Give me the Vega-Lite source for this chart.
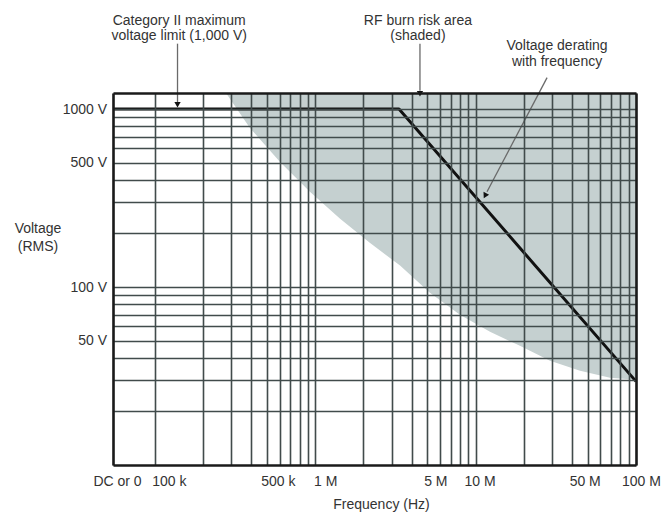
{
  "$schema": "https://vega.github.io/schema/vega-lite/v6.json",
  "width": 523,
  "height": 372,
  "autosize": {"type": "none"},
  "padding": {"left": 113, "top": 93, "right": 28, "bottom": 53},
  "background": "white",
  "config": {"view": {"stroke": null}, "font": "Liberation Sans"},
  "resolve": {"axis": {"x": "independent", "y": "independent"}},
  "layer": [
    {
      "data": {"values": [
        {"f": 278000, "v": 1230},
        {"f": 391000, "v": 785},
        {"f": 602000, "v": 505},
        {"f": 927000, "v": 343},
        {"f": 1430000, "v": 242},
        {"f": 2190000, "v": 177},
        {"f": 3380000, "v": 132},
        {"f": 5190000, "v": 92.8},
        {"f": 7990000, "v": 69.8},
        {"f": 12300000, "v": 56},
        {"f": 18900000, "v": 46.7},
        {"f": 29100000, "v": 38.5},
        {"f": 44800000, "v": 33.8},
        {"f": 68900000, "v": 30.9},
        {"f": 100000000, "v": 30.1}
      ]},
      "mark": {"type": "area", "color": "#c5d0d0", "opacity": 1, "clip": true},
      "encoding": {
        "x": {
          "field": "f", "type": "quantitative",
          "scale": {"type": "log", "domain": [54900, 100000000], "nice": false},
          "axis": {
            "orient": "bottom",
            "values": [54900, 100000, 200000, 300000, 400000, 500000, 600000, 700000, 800000, 900000, 1000000, 2000000, 3000000, 4000000, 5000000, 6000000, 7000000, 8000000, 9000000, 10000000, 20000000, 30000000, 40000000, 50000000, 60000000, 70000000, 80000000, 90000000, 100000000],
            "labelExpr": "datum.value < 60000 ? 'DC or 0' : datum.value == 100000 ? '100 k' : datum.value == 500000 ? '500 k' : datum.value == 1000000 ? '1 M' : datum.value == 5000000 ? '5 M' : datum.value == 10000000 ? '10 M' : datum.value == 50000000 ? '50 M' : datum.value == 100000000 ? '100 M' : ''",
            "ticks": false, "tickSize": 0,
            "domain": true, "domainColor": "#1a1a1a", "domainWidth": 2.5,
            "grid": true, "gridColor": "#414b4b", "gridWidth": 1.6, "gridOpacity": 1,
            "labelFont": "Liberation Sans", "labelFontSize": 14, "labelColor": "#333333",
            "labelPadding": 16, "labelBaseline": "middle", "labelOverlap": false, "labelFlush": false, "labelBound": false,
            "labelOffset": {"expr": "datum.value < 60000 ? 4 : datum.value == 100000 ? 14 : datum.value == 500000 ? 11 : datum.value == 1000000 ? 10 : datum.value == 5000000 ? 8 : datum.value == 10000000 ? 4 : datum.value == 50000000 ? -3 : 5"},
            "title": "Frequency (Hz)", "titleFont": "Liberation Sans", "titleFontSize": 14, "titleFontWeight": "normal", "titleColor": "#333333",
            "titleX": 268, "titleY": 39, "titleBaseline": "middle", "titleAlign": "center", "titleAnchor": null,
            "zindex": 1
          }
        },
        "y": {
          "field": "v", "type": "quantitative",
          "scale": {"type": "log", "domain": [10, 1230], "nice": false},
          "axis": {
            "orient": "left",
            "values": [20, 30, 40, 50, 60, 70, 80, 90, 100, 200, 300, 400, 500, 600, 700, 800, 900, 1000],
            "labelExpr": "datum.value == 1000 ? '1000 V' : datum.value == 500 ? '500 V' : datum.value == 100 ? '100 V' : datum.value == 50 ? '50 V' : ''",
            "ticks": false, "tickSize": 0,
            "domain": true, "domainColor": "#1a1a1a", "domainWidth": 2.5,
            "grid": true, "gridColor": "#414b4b", "gridWidth": 1.6, "gridOpacity": 1,
            "labelFont": "Liberation Sans", "labelFontSize": 14, "labelColor": "#333333",
            "labelPadding": 6.5, "labelBaseline": "middle", "labelOverlap": false, "labelFlush": false, "labelBound": false,
            "title": ["Voltage", "(RMS)"], "titleFont": "Liberation Sans", "titleFontSize": 14, "titleFontWeight": "normal", "titleColor": "#333333",
            "titleAngle": 0, "titleX": -75.5, "titleY": 128, "titleAlign": "center", "titleBaseline": "top", "titleLineHeight": 18, "titleAnchor": null,
            "zindex": 1
          }
        },
        "y2": {"datum": 1230}
      }
    },
    {
      "data": {"values": [
        {"f": 54900, "v": 1000},
        {"f": 3330000, "v": 1000},
        {"f": 100000000, "v": 29.5}
      ]},
      "mark": {"type": "line", "color": "#111111", "strokeWidth": 3, "strokeJoin": "round"},
      "encoding": {
        "x": {
          "field": "f", "type": "quantitative",
          "scale": {"type": "log", "domain": [54900, 100000000], "nice": false},
          "axis": {"orient": "top", "domain": true, "domainColor": "#1a1a1a", "domainWidth": 2.5, "ticks": false, "labels": false, "grid": false, "title": null, "zindex": 1}
        },
        "y": {
          "field": "v", "type": "quantitative",
          "scale": {"type": "log", "domain": [10, 1230], "nice": false},
          "axis": {"orient": "right", "domain": true, "domainColor": "#1a1a1a", "domainWidth": 2.5, "ticks": false, "labels": false, "grid": false, "title": null, "zindex": 1}
        }
      }
    },
    {
      "data": {"values": [
        {"f": 138600, "v": 2328, "f2": 138600, "v2": 1085},
        {"f": 4500000, "v": 2328, "f2": 4500000, "v2": 1267},
        {"f": 27900000, "v": 1500, "f2": 11780000, "v2": 342.8}
      ]},
      "mark": {"type": "rule", "color": "#6a6a6a", "strokeWidth": 1.3},
      "encoding": {
        "x": {"field": "f", "type": "quantitative", "scale": {"type": "log", "domain": [54900, 100000000], "nice": false}, "axis": null},
        "y": {"field": "v", "type": "quantitative", "scale": {"type": "log", "domain": [10, 1230], "nice": false}, "axis": null},
        "x2": {"field": "f2"},
        "y2": {"field": "v2"}
      }
    },
    {
      "data": {"values": [
        {"f": 138600, "v": 1057},
        {"f": 4500000, "v": 1219}
      ]},
      "mark": {"type": "point", "shape": "triangle-down", "filled": true, "color": "#111111", "size": 40, "opacity": 1},
      "encoding": {
        "x": {"field": "f", "type": "quantitative", "scale": {"type": "log", "domain": [54900, 100000000], "nice": false}, "axis": null},
        "y": {"field": "v", "type": "quantitative", "scale": {"type": "log", "domain": [10, 1230], "nice": false}, "axis": null}
      }
    },
    {
      "data": {"values": [
        {"f": 11450000, "v": 325.6}
      ]},
      "mark": {"type": "point", "shape": "triangle-up", "angle": 208, "filled": true, "color": "#111111", "size": 40, "opacity": 1},
      "encoding": {
        "x": {"field": "f", "type": "quantitative", "scale": {"type": "log", "domain": [54900, 100000000], "nice": false}, "axis": null},
        "y": {"field": "v", "type": "quantitative", "scale": {"type": "log", "domain": [10, 1230], "nice": false}, "axis": null}
      }
    },
    {
      "data": {"values": [
        {"f": 142000, "v": 3136, "t": "Category II maximum"},
        {"f": 142000, "v": 2582, "t": "voltage limit (1,000 V)"},
        {"f": 4370000, "v": 3136, "t": "RF burn risk area"},
        {"f": 4370000, "v": 2582, "t": "(shaded)"},
        {"f": 32200000, "v": 2254, "t": "Voltage derating"},
        {"f": 32200000, "v": 1833, "t": "with frequency"}
      ]},
      "mark": {"type": "text", "align": "center", "baseline": "middle", "font": "Liberation Sans", "fontSize": 14, "color": "#333333"},
      "encoding": {
        "x": {"field": "f", "type": "quantitative", "scale": {"type": "log", "domain": [54900, 100000000], "nice": false}, "axis": null},
        "y": {"field": "v", "type": "quantitative", "scale": {"type": "log", "domain": [10, 1230], "nice": false}, "axis": null},
        "text": {"field": "t"}
      }
    }
  ]
}
